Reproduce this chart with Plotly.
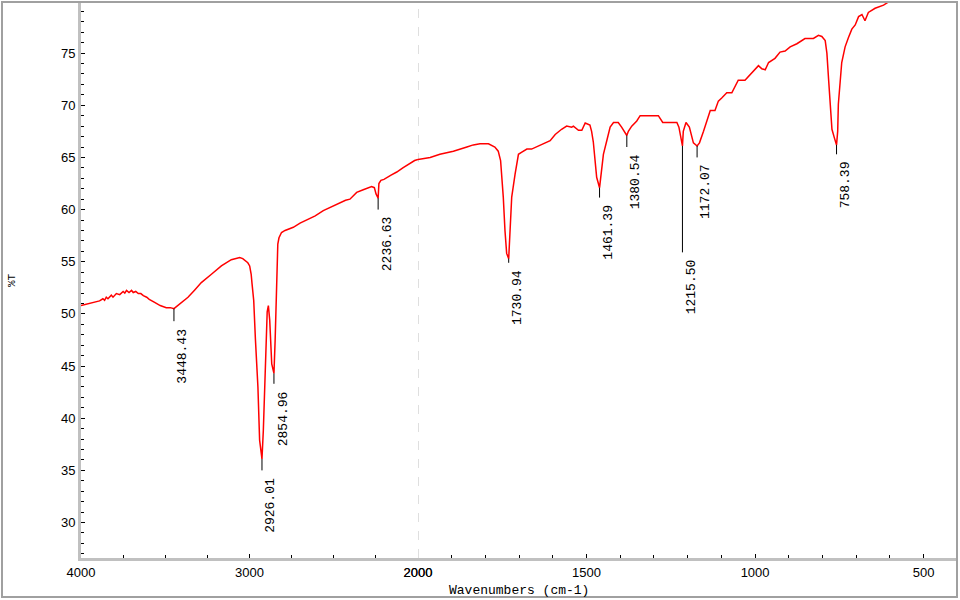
import numpy as np
import plotly.graph_objects as go

# FTIR spectrum (wavenumber cm-1, %T)
wavenumber = np.array([
    4000, 3960, 3919, 3890, 3870, 3860, 3850, 3840, 3820, 3810, 3790, 3770,
    3750, 3740, 3730, 3715, 3700, 3690, 3675, 3660, 3645, 3630, 3610, 3595,
    3563, 3530, 3494, 3470, 3448.43, 3424, 3395, 3365, 3325, 3286, 3226, 3167,
    3108, 3058, 3040, 3028, 3010, 2999, 2990, 2985, 2975, 2965, 2950, 2940,
    2926.01, 2918, 2910, 2900, 2895, 2888, 2880, 2868, 2854.96, 2848, 2843,
    2838, 2832, 2825, 2810, 2789, 2760, 2740, 2700, 2661, 2610, 2562, 2510,
    2463, 2430, 2404, 2380, 2364, 2325, 2290, 2275, 2259, 2249, 2236.63, 2232,
    2220, 2202, 2160, 2126, 2090, 2047, 2020, 2000,
    1964, 1935, 1895, 1855, 1836, 1816, 1791, 1772, 1762, 1755, 1747, 1742,
    1737, 1730.94, 1727, 1722, 1712, 1707, 1702, 1692, 1677, 1663, 1648, 1628,
    1608, 1593, 1574, 1559, 1544, 1539, 1524, 1514, 1504, 1490, 1485, 1480,
    1475, 1470, 1461.39, 1458, 1450, 1440, 1430, 1420, 1406, 1396, 1386,
    1380.54, 1376, 1366, 1351, 1341, 1321, 1287, 1274, 1232, 1226, 1220,
    1215.50, 1213, 1205, 1195, 1183, 1172.07, 1165, 1153, 1143, 1133, 1119,
    1109, 1099, 1084, 1069, 1059, 1050, 1030, 1015, 1005, 990, 980, 970, 960,
    941, 926, 911, 896, 876, 852, 827, 812, 802, 792, 787, 782, 777, 772, 765,
    758.39, 755, 753, 743, 733, 723, 713, 703, 693, 683, 674, 664, 644, 619,
    604, 590,
])
transmittance = np.array([
    50.8, 50.95, 51.1, 51.25, 51.45, 51.3, 51.6, 51.45, 51.8, 51.6, 51.95, 51.85,
    52.15, 52.0, 52.25, 52.05, 52.25, 52.05, 52.15, 51.95, 51.95, 51.75, 51.6, 51.4,
    51.1, 50.8, 50.6, 50.6, 50.5, 50.8, 51.2, 51.6, 52.3, 53.0, 53.8, 54.6,
    55.2, 55.4, 55.3, 55.1, 54.9, 54.6, 53.8, 52.9, 51.3, 47.6, 43.0, 37.9,
    36.1, 38.8, 42.5, 47.4, 50.2, 50.8, 49.4, 45.2, 44.3, 47.4, 51.3,
    53.9, 56.7, 57.3, 57.8, 58.0, 58.2, 58.3, 58.7, 59.0, 59.4, 59.9, 60.3,
    60.7, 60.9, 61.0, 61.4, 61.65, 61.9, 62.1, 62.2, 62.1, 61.5, 61.1, 62.5,
    62.8, 62.9, 63.3, 63.6, 64.0, 64.4, 64.7, 64.8,
    65.0, 65.3, 65.6, 66.0, 66.2, 66.3, 66.3, 66.0, 65.6, 64.7, 61.2, 58.0,
    55.8, 55.3, 58.0, 61.2, 63.4, 64.5, 65.3, 65.5, 65.8, 65.8, 66.0, 66.3,
    66.6, 67.2, 67.7, 68.0, 67.9, 68.0, 67.6, 67.6, 68.3, 68.1, 67.5, 66.5,
    65.0, 63.1, 62.1, 63.1, 65.3, 66.6, 67.9, 68.35, 68.35, 67.9, 67.3,
    67.1, 67.5, 68.0, 68.5, 69.0, 69.0, 69.0, 68.35, 68.35, 67.9, 66.9,
    66.1, 67.5, 68.35, 67.9, 66.4, 66.1, 66.4, 67.5, 68.5, 69.5, 69.5,
    70.4, 70.7, 71.2, 71.2, 71.9, 72.4, 72.4, 72.9, 73.3, 73.8, 73.5, 73.4, 74.1,
    74.5, 75.1, 75.2, 75.6, 75.9, 76.4, 76.4, 76.7, 76.6, 76.2, 75.0, 72.5, 69.6, 67.7, 66.9,
    66.2, 67.5, 70.1, 74.1, 75.6, 76.5, 77.3, 77.7, 78.5, 78.7, 78.1, 78.9, 79.3, 79.6,
    79.9, 80.3,
])

# labelled peaks: position, %T at the minimum, %T where the marker line ends
peak_wn = [3448.43, 2926.01, 2854.96, 2236.63, 1730.94, 1461.39, 1380.54, 1215.50, 1172.07, 758.39]
peak_t = [50.5, 36.1, 44.3, 61.1, 55.3, 62.1, 67.1, 66.1, 66.1, 66.2]
peak_end = [49.3, 35.0, 43.3, 60.0, 54.9, 61.15, 66.0, 55.9, 65.0, 65.3]
peak_text = ["3448.43", "2926.01", "2854.96", "2236.63", "1730.94",
             "1461.39", "1380.54", "1215.50", "1172.07", "758.39"]

SPLIT = 2000  # scale changes here (4000-2000 is drawn at half scale)
D = (418 - 81) / 875  # width share of the compressed part

mono = "Liberation Mono"
sans = "Liberation Sans"

fig = go.Figure()

left = wavenumber >= SPLIT
right = wavenumber <= SPLIT
fig.add_trace(go.Scatter(x=wavenumber[left], y=transmittance[left], xaxis="x", yaxis="y",
                         mode="lines", line=dict(color="#ff0000", width=1.5), hoverinfo="x+y"))
fig.add_trace(go.Scatter(x=wavenumber[right], y=transmittance[right], xaxis="x2", yaxis="y",
                         mode="lines", line=dict(color="#ff0000", width=1.5), hoverinfo="x+y"))

# peak marker lines
for ax, keep in (("x", lambda w: w > SPLIT), ("x2", lambda w: w <= SPLIT)):
    xs, ys = [], []
    for w, t0, t1 in zip(peak_wn, peak_t, peak_end):
        if keep(w):
            xs += [w, w, None]
            ys += [t0, t1, None]
    fig.add_trace(go.Scatter(x=xs, y=ys, xaxis=ax, yaxis="y", mode="lines",
                             line=dict(color="black", width=1), hoverinfo="skip"))

for w, t1, txt in zip(peak_wn, peak_end, peak_text):
    fig.add_annotation(x=w, y=t1, xref="x" if w > SPLIT else "x2", yref="y",
                       text=txt, textangle=-90, showarrow=False,
                       xanchor="center", yanchor="top", xshift=9, yshift=-5,
                       font=dict(family=mono, size=13, color="black"))

fig.add_annotation(x=0.5, y=(558 - 590) / 556, xref="paper", yref="paper",
                   xanchor="center", yanchor="middle",
                   text="Wavenumbers (cm-1)", showarrow=False,
                   font=dict(family=mono, size=13, color="black"))
fig.add_annotation(x=(12 - 81) / 875, y=0.5, xref="paper", yref="paper",
                   xanchor="center", yanchor="middle",
                   text="%T", textangle=-90, showarrow=False,
                   font=dict(family=mono, size=11, color="black"))

axis_common = dict(showline=True, linecolor="#c0c0c0", linewidth=3, ticks="inside",
                   ticklen=4, tickcolor="black", tickwidth=1, showgrid=False,
                   zeroline=False, automargin=False,
                   tickfont=dict(family=sans, size=13, color="black"))

fig.update_layout(
    width=960, height=600, autosize=False,
    margin=dict(l=81, r=4, t=2, b=42),
    plot_bgcolor="white", paper_bgcolor="white",
    showlegend=False,
    xaxis=dict(domain=[0, D], range=[4000, 2000], anchor="y",
               tickmode="array", tickvals=[4000, 3000, 2000],
               minor=dict(tickvals=list(range(2000, 4001, 250)), ticks="inside",
                          ticklen=3, tickcolor="black"),
               **axis_common),
    xaxis2=dict(domain=[D, 1], range=[2000, 404], anchor="y",
                tickmode="array", tickvals=[2000, 1500, 1000, 500],
                minor=dict(tickvals=list(range(500, 2001, 100)), ticks="inside",
                           ticklen=3, tickcolor="black"),
                **axis_common),
    yaxis=dict(domain=[0, 1], range=[26.6, 79.9], anchor="x",
               tickmode="array", tickvals=list(range(30, 80, 5)),
               minor=dict(dtick=1, ticks="inside", ticklen=3, tickcolor="black"),
               **axis_common),
)

# dashed marker at the scale change
fig.add_shape(type="line", xref="x2", yref="paper", x0=SPLIT, x1=SPLIT, y0=0, y1=1,
              line=dict(color="#c0c0c0", width=1, dash="dash"), layer="below")
# outer window frame
fig.add_shape(type="rect", xref="paper", yref="paper",
              x0=(2 - 81) / 875, x1=(957 - 81) / 875, y0=(558 - 597) / 556, y1=1.0,
              line=dict(color="#a0a0a0", width=2))

# drop the default page margin and scrollbars so the figure sits at the window corner
fig.write_html("out.html",
               config=dict(displayModeBar=False, responsive=False),
               post_script="document.body.style.margin='0';"
                           "document.documentElement.style.overflow='hidden';")
